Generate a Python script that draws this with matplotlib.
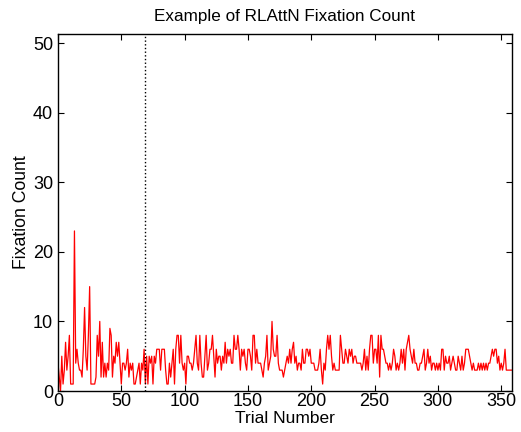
import matplotlib
matplotlib.use("Agg")
import matplotlib.pyplot as plt
import numpy as np

plt.rcParams['font.family'] = ['Liberation Sans', 'DejaVu Sans']

fixation_counts = [
    4, 2, 0, 5, 1, 3, 7, 3, 5, 8,
    1, 1, 1, 23, 4, 6, 4, 3, 3, 2,
    6, 12, 5, 3, 8, 15, 1, 1, 1, 1,
    2, 8, 5, 10, 2, 7, 2, 4, 2, 4,
    3, 9, 8, 2, 5, 4, 7, 5, 7, 4,
    1, 4, 4, 3, 4, 6, 2, 4, 3, 4,
    1, 1, 2, 3, 4, 1, 4, 3, 6, 1,
    5, 1, 5, 4, 5, 1, 5, 4, 6, 6,
    6, 3, 6, 6, 6, 3, 1, 1, 4, 2,
    4, 6, 1, 6, 8, 8, 4, 8, 4, 3,
    4, 1, 5, 5, 4, 4, 3, 4, 6, 8,
    4, 3, 8, 4, 2, 2, 5, 8, 3, 4,
    6, 6, 8, 5, 2, 6, 4,
    5, 5, 3, 5, 4, 7, 4, 6, 5, 6, 4, 4, 8, 6, 6, 8, 6, 3, 6, 5,
    6, 4, 3, 6, 6, 5, 3, 8, 8, 4, 6, 4, 4, 4, 3, 2, 4, 5, 8, 3,
    4, 5, 10, 6, 5, 5, 8,
    4, 3, 3, 3, 2, 3, 4, 5, 4, 6, 4, 6, 7, 4, 5, 3, 4, 4, 3, 6,
    4, 4, 6, 6, 5, 6, 4, 4, 4, 3, 3, 3, 4, 6, 3, 1, 4, 3, 6,
    8, 6, 8, 5, 3, 4, 3, 3, 3, 3, 8, 6, 4, 4, 6, 5, 4, 6, 5, 6,
    4, 5, 5, 4, 4, 4, 4, 3, 4, 6, 3, 5, 3, 6, 8, 8, 4, 6, 6, 4,
    8, 2, 8, 6,
    6, 5, 4, 4, 3, 4, 3, 4, 6, 5, 3, 4, 3, 4, 6, 4, 6, 3, 6, 7,
    8, 6, 5, 4, 6, 4, 4, 3, 3, 4, 4, 5, 6, 3, 4, 6, 4, 5, 3, 4,
    4, 3, 4,
    3, 4, 3, 6, 6, 3, 5, 4, 4, 5, 3, 4, 5, 4, 3, 3, 5, 4, 3, 5,
    3, 4, 6, 6, 6, 5, 4, 3, 4, 3, 3, 3, 4, 3, 4, 3, 4, 3, 4, 3,
    4, 4, 5, 6, 5, 6, 6, 4, 5, 3, 4, 3, 4, 6, 3, 3, 3, 3, 3,
]
trials = np.arange(len(fixation_counts))
switch_trial = 68.5

x_ticks = [0, 50, 100, 150, 200, 250, 300, 350]
y_ticks = [0, 10, 20, 30, 40, 50]

fig = plt.figure(figsize=(5.21, 4.32), dpi=100)
ax = fig.add_axes([0.1113, 0.0949, 0.8714, 0.8264])

ax.plot(trials, fixation_counts, color='red', linewidth=0.9)
ax.axvline(switch_trial, color='black', linestyle=':', linewidth=1.0)

ax.set_xlim(0, 358.5)
ax.set_ylim(0, 51.3)
ax.set_xticks(x_ticks)
ax.set_yticks(y_ticks)
ax.tick_params(axis='both', direction='in', top=True, right=True, length=4,
               width=0.8, labelsize=13)
ax.tick_params(axis='x', pad=1.5)
ax.tick_params(axis='y', pad=3.5)
for s in ax.spines.values():
    s.set_linewidth(1.0)

ax.set_title('Example of RLAttN Fixation Count', fontsize=12.3, pad=9)
ax.set_xlabel('Trial Number', fontsize=12.5, labelpad=0.5)
ax.set_ylabel('Fixation Count', fontsize=12.7, labelpad=2)

fig.savefig('out.png', dpi=100)
